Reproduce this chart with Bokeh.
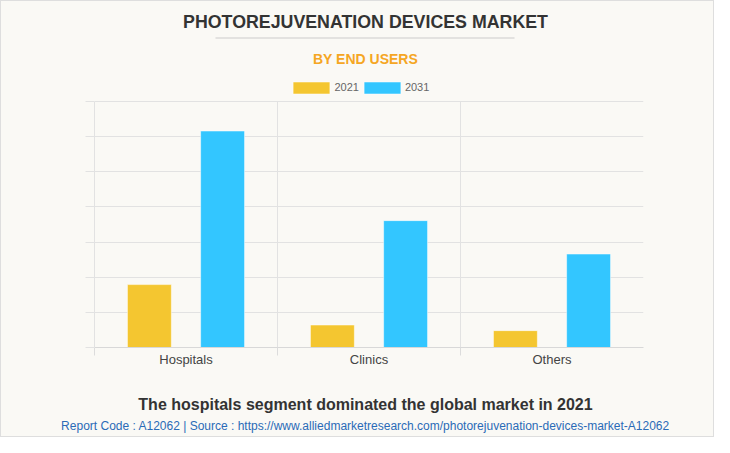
from bokeh.plotting import figure
from bokeh.layouts import column
from bokeh.models import (ColumnDataSource, FixedTicker, Legend, LegendItem, Range1d,
                          CustomJSTickFormatter)
from bokeh.core.properties import value
from bokeh.embed import file_html
from bokeh.resources import INLINE

# ---- data ----
categories = ["Hospitals", "Clinics", "Others"]
values_2021 = [179, 64, 48]
values_2031 = [616, 361, 266]
series_names = ["2021", "2031"]
series_colors = ["#f4c630", "#33c6ff"]
y_ticks = [0, 100, 200, 300, 400, 500, 600, 700]

title_text = "PHOTOREJUVENATION DEVICES MARKET"
subtitle_text = "BY END USERS"
footer_text = "The hospitals segment dominated the global market in 2021"
source_text = ("Report Code : A12062 | Source : "
               "https://www.alliedmarketresearch.com/photorejuvenation-devices-market-A12062")

BG = "#faf9f5"
FONT = "Liberation Sans"
W = 712
GRID = "#e2e2e2"


def text_panel(height):
    f = figure(width=W, height=height, output_backend="svg", toolbar_location=None,
               x_axis_type=None, y_axis_type=None,
               x_range=Range1d(0, W), y_range=Range1d(height, 0),
               min_border=0, min_border_left=0, min_border_right=0,
               min_border_top=0, min_border_bottom=0,
               background_fill_color=BG, border_fill_color=BG, outline_line_color=None)
    f.grid.visible = False
    if "frame_align" in f.properties():
        f.frame_align = False
    return f


# ---- header ----
header = text_panel(72)
header.text(x=[364], y=[20], text=[title_text], text_font=value(FONT),
            text_font_style="bold", text_font_size="17.8px", text_color="#333333",
            text_align="center", text_baseline="alphabetic")
header.segment(x0=[214], y0=[36.5], x1=[513], y1=[36.5], line_color="#cccccc", line_width=1.2)
header.text(x=[364], y=[57], text=[subtitle_text], text_font=value(FONT),
            text_font_style="bold", text_font_size="14px", text_color="#f5a623",
            text_align="center", text_baseline="alphabetic")

# ---- main chart ----
# frame spans from the legend row (top) down to the x axis; the value scale tops out at 700
FRAME_H = 274
PLOT_H = 246
y_top = y_ticks[-1] * FRAME_H / PLOT_H

p = figure(width=W, height=307, output_backend="svg", toolbar_location=None,
           x_range=(0, len(categories)), y_range=(0, y_top),
           min_border_left=93, min_border_right=70, min_border_top=0, min_border_bottom=33,
           background_fill_color=BG, border_fill_color=BG, outline_line_color=None)

idx = list(range(len(categories)))
src = ColumnDataSource(dict(
    x21=[i + 0.5 - 0.2 for i in idx],
    x31=[i + 0.5 + 0.2 for i in idx],
    v21=values_2021, v31=values_2031))

# category separators (vertical grid), limited to the value scale
p.segment(x0=idx[1:], y0=[y_ticks[0]] * (len(idx) - 1), x1=idx[1:],
          y1=[y_ticks[-1]] * (len(idx) - 1), line_color=GRID, line_width=1)

r1 = p.vbar(x="x21", top="v21", width=0.24, bottom=0, source=src,
            fill_color=series_colors[0], line_color="#ffffff", line_alpha=0.5, line_width=1)
r2 = p.vbar(x="x31", top="v31", width=0.24, bottom=0, source=src,
            fill_color=series_colors[1], line_color="#ffffff", line_alpha=0.5, line_width=1)

p.xgrid.visible = False
p.ygrid.ticker = FixedTicker(ticks=y_ticks)
p.ygrid.grid_line_color = GRID

xa = p.xaxis[0]
xa.ticker = FixedTicker(ticks=[i + 0.5 for i in idx], minor_ticks=idx)
xa.major_label_overrides = {i + 0.5: c for i, c in zip(idx, categories)}
xa.major_tick_line_color = None
xa.major_tick_out = 0
xa.major_tick_in = 0
xa.minor_tick_line_color = "#dcdcdc"
xa.minor_tick_out = 8
xa.minor_tick_in = 0
xa.axis_line_color = "#d8d8d8"
xa.major_label_text_font = FONT
xa.major_label_text_font_size = "13px"
xa.major_label_text_color = "#444444"
xa.major_label_standoff = -4

ya = p.yaxis[0]
ya.ticker = FixedTicker(ticks=y_ticks)
ya.bounds = (y_ticks[0], y_ticks[-1])
ya.formatter = CustomJSTickFormatter(code="return ''")
ya.major_tick_out = 9
ya.major_tick_in = 0
ya.major_tick_line_color = GRID
ya.minor_tick_line_color = None
ya.axis_line_color = GRID

legend = Legend(items=[LegendItem(label=series_names[0], renderers=[r1]),
                       LegendItem(label=series_names[1], renderers=[r2])],
                orientation="horizontal", location=(194.4, 252.5),
                glyph_width=46, glyph_height=15, label_height=15, label_standoff=0,
                spacing=0, padding=0, margin=0,
                label_text_font=FONT, label_text_font_size="11px", label_text_color="#666666",
                border_line_color=None, background_fill_alpha=0)
p.add_layout(legend, "center")

# ---- footer ----
footer = text_panel(56)
footer.text(x=[364], y=[24], text=[footer_text], text_font=value(FONT),
            text_font_style="bold", text_font_size="16px", text_color="#333333",
            text_align="center", text_baseline="alphabetic")
footer.text(x=[364], y=[45.5], text=[source_text], text_font=value(FONT),
            text_font_size="12px", text_color="#2a6bb7",
            text_align="center", text_baseline="alphabetic")

layout = column(header, p, footer, spacing=0,
                styles={"border": "1px solid #dedede", "background-color": BG})

open("out.html", "w").write(file_html(layout, INLINE))
